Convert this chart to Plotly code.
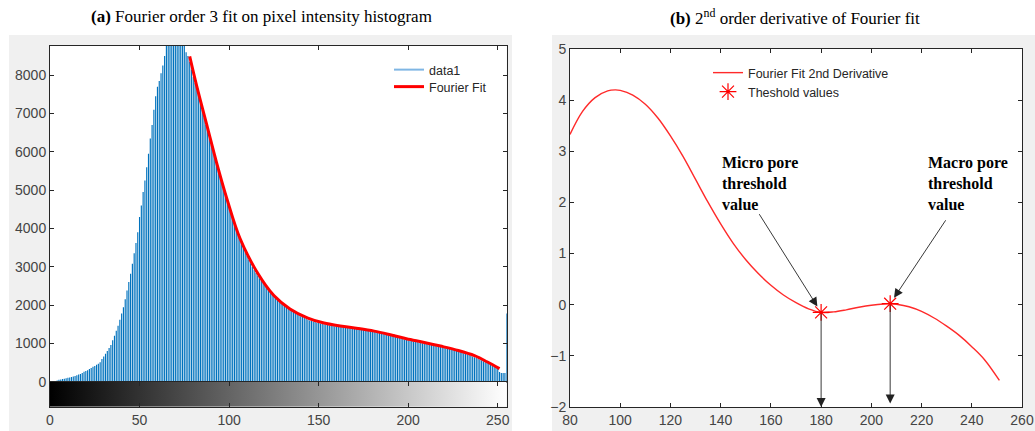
import plotly.graph_objects as go

W, H = 1035, 431

# ---------------- data ----------------
intensity_bins = list(range(256))
pixel_counts = [
    0, 5, 10, 20, 30, 50, 60, 70, 80, 90,
    100, 110, 120, 135, 150, 170, 185, 200, 230, 260,
    280, 300, 330, 360, 390, 410, 440, 470, 510, 590,
    660, 730, 800, 880, 960, 1080, 1200, 1330, 1460, 1620,
    1780, 1940, 2150, 2380, 2600, 2820, 3080, 3350, 3620, 3900,
    4300, 4600, 4950, 5250, 5600, 5950, 6350, 6700, 7100, 7450,
    7700, 7850, 8050, 8250, 8500, 8800, 9000, 9200, 9300, 9350,
    9400, 9350, 9300, 9200, 9000, 8800, 8600, 8500, 8350, 8150,
    7950, 7800, 7650, 7450, 7250, 7100, 6900, 6700, 6550, 6350,
    6200, 6000, 5850, 5700, 5500, 5350, 5200, 5050, 4900, 4750,
    4600, 4450, 4300, 4150, 4000, 3850, 3720, 3600, 3500, 3380,
    3280, 3180, 3090, 3000, 2920, 2840, 2770, 2700, 2640, 2580,
    2520, 2460, 2400, 2340, 2290, 2240, 2190, 2140, 2100, 2060,
    2020, 1980, 1950, 1910, 1880, 1850, 1820, 1790, 1760, 1740,
    1710, 1690, 1660, 1640, 1620, 1600, 1590, 1570, 1560, 1540,
    1530, 1520, 1510, 1500, 1490, 1480, 1470, 1460, 1455, 1450,
    1445, 1440, 1435, 1430, 1420, 1415, 1410, 1400, 1395, 1390,
    1385, 1380, 1370, 1365, 1360, 1350, 1345, 1335, 1325, 1315,
    1305, 1300, 1290, 1280, 1270, 1260, 1300, 1240, 1230, 1215,
    1200, 1190, 1240, 1170, 1155, 1140, 1130, 1115, 1100, 1090,
    1080, 1070, 1060, 1050, 1045, 1035, 1025, 1015, 1005, 995,
    985, 975, 965, 955, 945, 935, 925, 915, 905, 895,
    885, 875, 865, 855, 840, 830, 815, 800, 790, 775,
    760, 745, 730, 715, 700, 680, 660, 640, 620, 600,
    580, 560, 535, 510, 485, 460, 435, 410, 385, 360,
    330, 250, 230, 230, 230, 1780,
]

fit_x = [78, 82, 88, 93, 99, 106, 116, 125, 134, 144, 153, 162,
         172, 181, 190, 199, 209, 218, 228, 237, 244, 251]
fit_y = [8490, 7700, 6620, 5720, 4740, 3750, 2830, 2250, 1900, 1660, 1530, 1455,
         1390, 1320, 1225, 1120, 1025, 930, 815, 680, 520, 340]

deriv_x = [80, 85, 90, 95, 98, 100, 105, 110, 115, 120, 125, 130, 135, 140,
           145, 150, 155, 160, 165, 170, 175, 180, 185, 190, 195, 200, 205,
           208, 210, 215, 220, 225, 230, 235, 240, 245, 251]
deriv_y = [3.33, 3.78, 4.05, 4.18, 4.2, 4.19, 4.1, 3.92, 3.65, 3.3, 2.9, 2.45,
           2.0, 1.58, 1.2, 0.88, 0.61, 0.38, 0.19, 0.04, -0.08, -0.15, -0.14,
           -0.1, -0.05, -0.01, 0.015, 0.02, 0.01, -0.04, -0.13, -0.26, -0.42,
           -0.6, -0.82, -1.07, -1.48]

threshold_x = [180, 207.5]
threshold_y = [-0.15, 0.02]

hist_xticks = [0, 50, 100, 150, 200, 250]
hist_yticks = [0, 1000, 2000, 3000, 4000, 5000, 6000, 7000, 8000]
deriv_xticks = [80, 100, 120, 140, 160, 180, 200, 220, 240, 260]
deriv_yticks = [-2, -1, 0, 1, 2, 3, 4, 5]

# ---------------- helpers ----------------
def px(x):
    return x / W

def py(y):
    return 1 - y / H

AXC = "#262626"
TICKC = "#444444"
TICKFONT = dict(family="Liberation Sans, Arial", size=14, color=TICKC)

# stems (imhist draws one vertical line per intensity bin)
stem_x, stem_y = [], []
for b, c in zip(intensity_bins, pixel_counts):
    stem_x += [b, b, None]
    stem_y += [0, c, None]

fig = go.Figure()

fig.add_trace(go.Scatter(x=stem_x, y=stem_y, mode="lines", name="data1",
                         line=dict(color="#0072BD", width=1.15),
                         showlegend=False, xaxis="x", yaxis="y",
                         hoverinfo="skip"))
# legend proxy for data1
fig.add_trace(go.Scatter(x=[None], y=[None], mode="lines", name="data1",
                         line=dict(color="#7fb6e4", width=2),
                         xaxis="x", yaxis="y", legend="legend"))
fig.add_trace(go.Scatter(x=fit_x, y=fit_y, mode="lines", name="Fourier Fit",
                         line=dict(color="#ff0000", width=3, shape="spline"),
                         xaxis="x", yaxis="y", legend="legend3"))

# gray colour bar under histogram
fig.add_trace(go.Scatter(x=[0, 255, 255, 0, 0], y=[0, 0, 1, 1, 0], mode="lines",
                         fill="toself", line=dict(width=0),
                         fillgradient=dict(type="horizontal",
                                           colorscale=[[0, "black"], [1, "white"]]),
                         showlegend=False, hoverinfo="skip",
                         xaxis="x2", yaxis="y2"))

# right: 2nd derivative
fig.add_trace(go.Scatter(x=deriv_x, y=deriv_y, mode="lines",
                         name="Fourier Fit 2nd Derivative",
                         line=dict(color="#ff2a2a", width=1.4, shape="spline"),
                         xaxis="x3", yaxis="y3", legend="legend2"))
fig.add_trace(go.Scatter(x=threshold_x, y=threshold_y, mode="markers",
                         name="Theshold values",
                         marker=dict(symbol="asterisk-open", size=14, color="#ff0000",
                                     line=dict(color="#ff0000", width=1.2)),
                         xaxis="x3", yaxis="y3", legend="legend4"))

# geometry
hx0, hx1 = px(50), px(506.7)
hy0, hy1 = py(381.7), py(45.7)
cy0 = py(406.7)
rx0, rx1 = px(570), px(1022)
ry0, ry1 = py(407), py(49)

axis_common = dict(showline=True, linecolor=AXC, linewidth=1, ticks="inside",
                   ticklen=4, tickcolor=AXC, tickfont=TICKFONT, showgrid=False,
                   zeroline=False, automargin=False)

shapes = [
    dict(type="rect", xref="paper", yref="paper", x0=px(9), x1=px(512),
         y0=0, y1=py(35), fillcolor="#f0f0f0", line=dict(width=0), layer="below"),
    dict(type="rect", xref="paper", yref="paper", x0=px(552), x1=1,
         y0=0, y1=py(35), fillcolor="#f0f0f0", line=dict(width=0), layer="below"),
    dict(type="rect", xref="paper", yref="paper", x0=hx0, x1=hx1,
         y0=hy0, y1=hy1, fillcolor="white", line=dict(width=0), layer="below"),
    dict(type="rect", xref="paper", yref="paper", x0=rx0, x1=rx1,
         y0=ry0, y1=ry1, fillcolor="white", line=dict(width=0), layer="below"),
]

serif = "Liberation Serif, Times New Roman"
annotations = [
    dict(xref="paper", yref="paper", x=px(261), y=py(17), showarrow=False,
         text="<b>(a)</b> Fourier order 3 fit on pixel intensity histogram",
         font=dict(family=serif, size=17, color="black"),
         xanchor="center", yanchor="middle"),
    dict(xref="paper", yref="paper", x=px(795), y=py(17), showarrow=False,
         text="<b>(b)</b> 2<sup>nd</sup> order derivative of Fourier fit",
         font=dict(family=serif, size=17, color="black"),
         xanchor="center", yanchor="middle"),
    dict(xref="paper", yref="paper", x=px(720), y=py(152), showarrow=False,
         text="<b>Micro pore<br>threshold<br>value</b>", align="left",
         font=dict(family=serif, size=16, color="black"),
         xanchor="left", yanchor="top"),
    dict(xref="paper", yref="paper", x=px(926), y=py(152), showarrow=False,
         text="<b>Macro pore<br>threshold<br>value</b>", align="left",
         font=dict(family=serif, size=16, color="black"),
         xanchor="left", yanchor="top"),
]

arrow_style = dict(xref="x3", yref="y3", axref="x3", ayref="y3", text="",
                   showarrow=True, arrowhead=2, arrowsize=2, arrowwidth=0.9,
                   arrowcolor="#222222")
annotations += [
    dict(x=threshold_x[0], y=threshold_y[0], ax=155, ay=1.80, standoff=7, **arrow_style),
    dict(x=threshold_x[1], y=threshold_y[1], ax=230, ay=1.68, standoff=7, **arrow_style),
    dict(x=threshold_x[0], y=-2, ax=threshold_x[0], ay=threshold_y[0], standoff=0, **arrow_style),
    dict(x=threshold_x[1], y=-1.93, ax=threshold_x[1], ay=threshold_y[1], standoff=0, **arrow_style),
]

legend_font = dict(family="Liberation Sans, Arial", size=12.5, color=AXC)

def leg(xp, yp):
    return dict(x=px(xp), y=py(yp), xanchor="left", yanchor="middle",
                bgcolor="rgba(0,0,0,0)", borderwidth=0, font=legend_font,
                tracegroupgap=0, itemwidth=30)

fig.update_layout(
    template="none",
    width=W, height=H, margin=dict(l=0, r=0, t=0, b=0),
    paper_bgcolor="white", plot_bgcolor="white",
    showlegend=True,
    xaxis=dict(domain=[hx0, hx1], anchor="y", range=[0, 255], side="top",
               tickvals=hist_xticks, showticklabels=False, mirror=True,
               **axis_common),
    yaxis=dict(domain=[hy0, hy1], anchor="x", range=[0, 8770],
               tickvals=hist_yticks, mirror="ticks", **axis_common),
    xaxis2=dict(domain=[hx0, hx1], anchor="y2", range=[0, 255],
                tickvals=hist_xticks, mirror="ticks", **axis_common),
    yaxis2=dict(domain=[cy0, hy0], anchor="x2", range=[0, 1],
                showline=True, linecolor=AXC, mirror=True, ticks="",
                showticklabels=False, showgrid=False, zeroline=False,
                automargin=False),
    xaxis3=dict(domain=[rx0, rx1], anchor="y3", range=[80, 260],
                tickvals=deriv_xticks, mirror="ticks", **axis_common),
    yaxis3=dict(domain=[ry0, ry1], anchor="x3", range=[-2, 5],
                tickvals=deriv_yticks, mirror="ticks", **axis_common),
    legend=leg(389, 70),
    legend3=leg(389, 87),
    legend2=leg(708, 73),
    legend4=leg(708, 92),
    shapes=shapes,
    annotations=annotations,
)

fig.write_html("out.html")
